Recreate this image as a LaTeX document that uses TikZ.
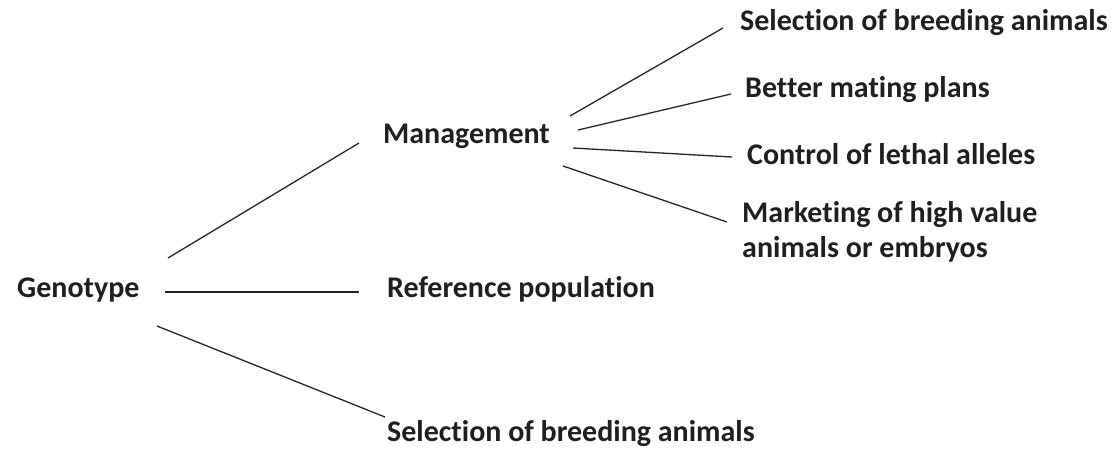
\documentclass[tikz,border=0pt]{standalone}
\usepackage{fontspec}
\setmainfont[Ligatures=NoCommon]{Carlito}
\begin{document}
\begin{tikzpicture}[x=1pt,y=-1pt,
  lbl/.style={anchor=base west,inner sep=0pt,font=\bfseries\fontsize{30}{35}\selectfont,text=black!88},
  conn/.style={draw=black!85,line width=1.3pt}]
\useasboundingbox (0,0) rectangle (1113,448);
\node[lbl] (geno) at (17,297) {Genotype};
\node[lbl] (mgmt) at (383,143) {Management};
\node[lbl] (ref) at (387,297) {Reference population};
\node[lbl] (selb) at (387,441) {Selection of breeding animals};
\node[lbl] (selt) at (740,30) {Selection of breeding animals};
\node[lbl] (better) at (745,97) {Better mating plans};
\node[lbl] (ctrl) at (747,164) {Control of lethal alleles};
\node[lbl,align=left,anchor=north west] (mkt) at (742,201) {Marketing of high value\\animals or embryos};
% connector endpoints
\coordinate (g1) at (168,258); \coordinate (m0) at (359,143);
\coordinate (g2) at (165,292); \coordinate (r0) at (359,292);
\coordinate (g3) at (157,326); \coordinate (s0) at (385,417);
\coordinate (m1) at (570,116); \coordinate (t1) at (723,28);
\coordinate (m2) at (578,130); \coordinate (t2) at (731,94);
\coordinate (m3) at (573,148); \coordinate (t3) at (732,157);
\coordinate (m4) at (563,166); \coordinate (t4) at (727,222);
\draw[conn] (g1) -- (m0);
\draw[conn] (g2) -- (r0);
\draw[conn] (g3) -- (s0);
\draw[conn] (m1) -- (t1);
\draw[conn] (m2) -- (t2);
\draw[conn] (m3) -- (t3);
\draw[conn] (m4) -- (t4);
\end{tikzpicture}
\end{document}
